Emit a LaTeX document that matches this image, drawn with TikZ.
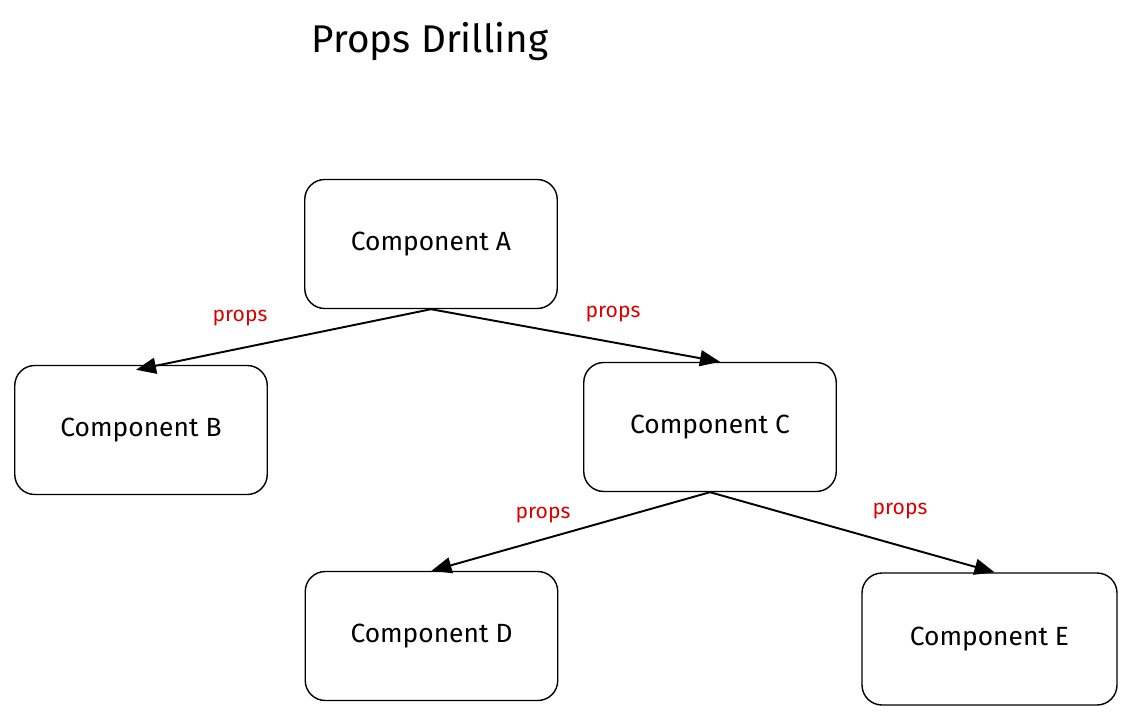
\documentclass[tikz,border=0pt]{standalone}
\usepackage{fontspec}
\setmainfont{Fira Sans}
\usetikzlibrary{arrows.meta}
\begin{document}
\begin{tikzpicture}
		\tikzstyle{Comp} = [rectangle, rounded corners=4mm, minimum width=5.05cm, minimum height=2.58cm, text centered, draw=black, thick, font=\fontsize{15}{18}\selectfont]
		\tikzstyle{arrow} = [line width=1.1pt,-{Triangle[length=4mm,width=3.2mm]}]
		\tikzstyle{lbl} = [text=red!85!black, font=\large]
		
		\useasboundingbox (0,0) rectangle (22.64,-14.38);
		\node (title) at (8.6,-0.84) {\fontsize{22}{26}\selectfont Props Drilling};
		
		\node (a) [Comp] at (8.62,-4.88) {Component A};
		\node (b) [Comp] at (2.82,-8.6) {Component B};
		\node (c) [Comp] at (14.2,-8.54) {Component C};
		\node (d) [Comp] at (8.63,-12.72) {Component D};
		\node (e) [Comp, minimum width=5.1cm, minimum height=2.64cm] at (19.79,-12.78) {Component E};
		
		\draw [arrow] (a.south) -- ([xshift=-1mm,yshift=-1mm]b.north);
		\draw [arrow] (a.south) -- ([xshift=2mm]c.north);
		\draw [arrow] (c.south) -- (d.north);
		\draw [arrow] (c.south) -- ([xshift=1mm]e.north);
		
		\node (p1) [lbl] at (4.8,-6.36) {props};
		\node (p2) [lbl] at (12.26,-6.28) {props};
		\node (p3) [lbl] at (10.86,-10.3) {props};
		\node (p4) [lbl] at (18.0,-10.22) {props};
		\end{tikzpicture}
\end{document}
